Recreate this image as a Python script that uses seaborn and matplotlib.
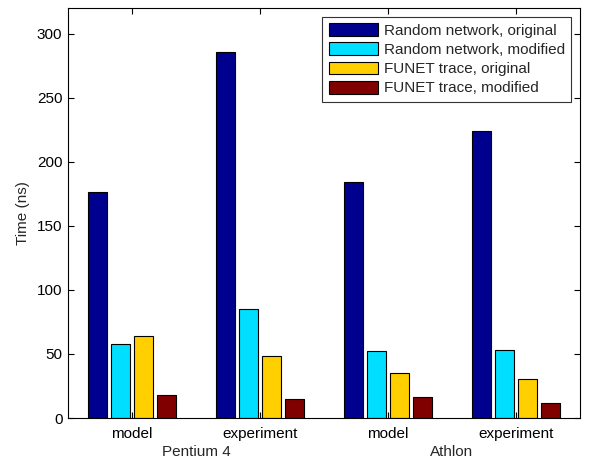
import matplotlib
matplotlib.use("Agg")
import matplotlib.pyplot as plt
import seaborn as sns
import pandas as pd

groups = ["P4-model", "P4-experiment", "Athlon-model", "Athlon-experiment"]
tick_labels = ["model", "experiment", "model", "experiment"]
cpu_labels = ["Pentium 4", "Athlon"]
series = ["Random network, original", "Random network, modified",
          "FUNET trace, original", "FUNET trace, modified"]
rand_orig = [176.5, 286, 184, 224]
rand_mod = [57.7, 84.7, 52.3, 52.7]
funet_orig = [64, 48.6, 35.3, 30.7]
funet_mod = [18, 14.8, 16.1, 11.7]
colors = ["#00008F", "#00DFFF", "#FFCF00", "#800000"]

rows = []
for s, vals in zip(series, [rand_orig, rand_mod, funet_orig, funet_mod]):
    for g, v in zip(groups, vals):
        rows.append({"group": g, "series": s, "value": v})
df = pd.DataFrame(rows)

sns.set_style("white")
plt.rcParams["font.family"] = ["Liberation Sans", "DejaVu Sans"]

FS = 11
fig = plt.figure(figsize=(5.92, 4.61), dpi=100)
ax = fig.add_axes([68/592, 43/461, 512/592, 410/461])
sns.barplot(data=df, x="group", y="value", hue="series", order=groups,
            hue_order=series, palette=colors, width=0.72, gap=0.18,
            edgecolor="black", linewidth=0.8, saturation=1, ax=ax, errorbar=None)

ax.set_xlim(-0.5, 3.5)
ax.set_ylim(0, 320)
ax.set_yticks([0, 50, 100, 150, 200, 250, 300])
ax.set_xticks(range(4))
ax.set_xticklabels(tick_labels, fontsize=FS)
ax.tick_params(axis="y", labelsize=FS, pad=4)
ax.tick_params(axis="x", pad=6.5)
ax.tick_params(direction="in", length=4, width=0.8, top=True, right=True,
               bottom=True, left=True, colors="black")
ax.set_xlabel("")
ax.set_ylabel("Time (ns)", fontsize=FS, labelpad=5)
for sp in ax.spines.values():
    sp.set_visible(True)
    sp.set_color("black")
    sp.set_linewidth(0.8)

for i, lab in enumerate(cpu_labels):
    ax.text(0.5 + 2*i, -0.082, lab, transform=ax.get_xaxis_transform(),
            ha="center", va="center", fontsize=FS)

leg = ax.legend(loc="upper right", fontsize=FS, frameon=True, fancybox=False,
                edgecolor="black", handlelength=3.25, handleheight=0.9,
                borderaxespad=0.6, labelspacing=0.3, handletextpad=0.35,
                borderpad=0.4)
leg.get_frame().set_linewidth(0.8)

fig.savefig("out.png", dpi=100)
